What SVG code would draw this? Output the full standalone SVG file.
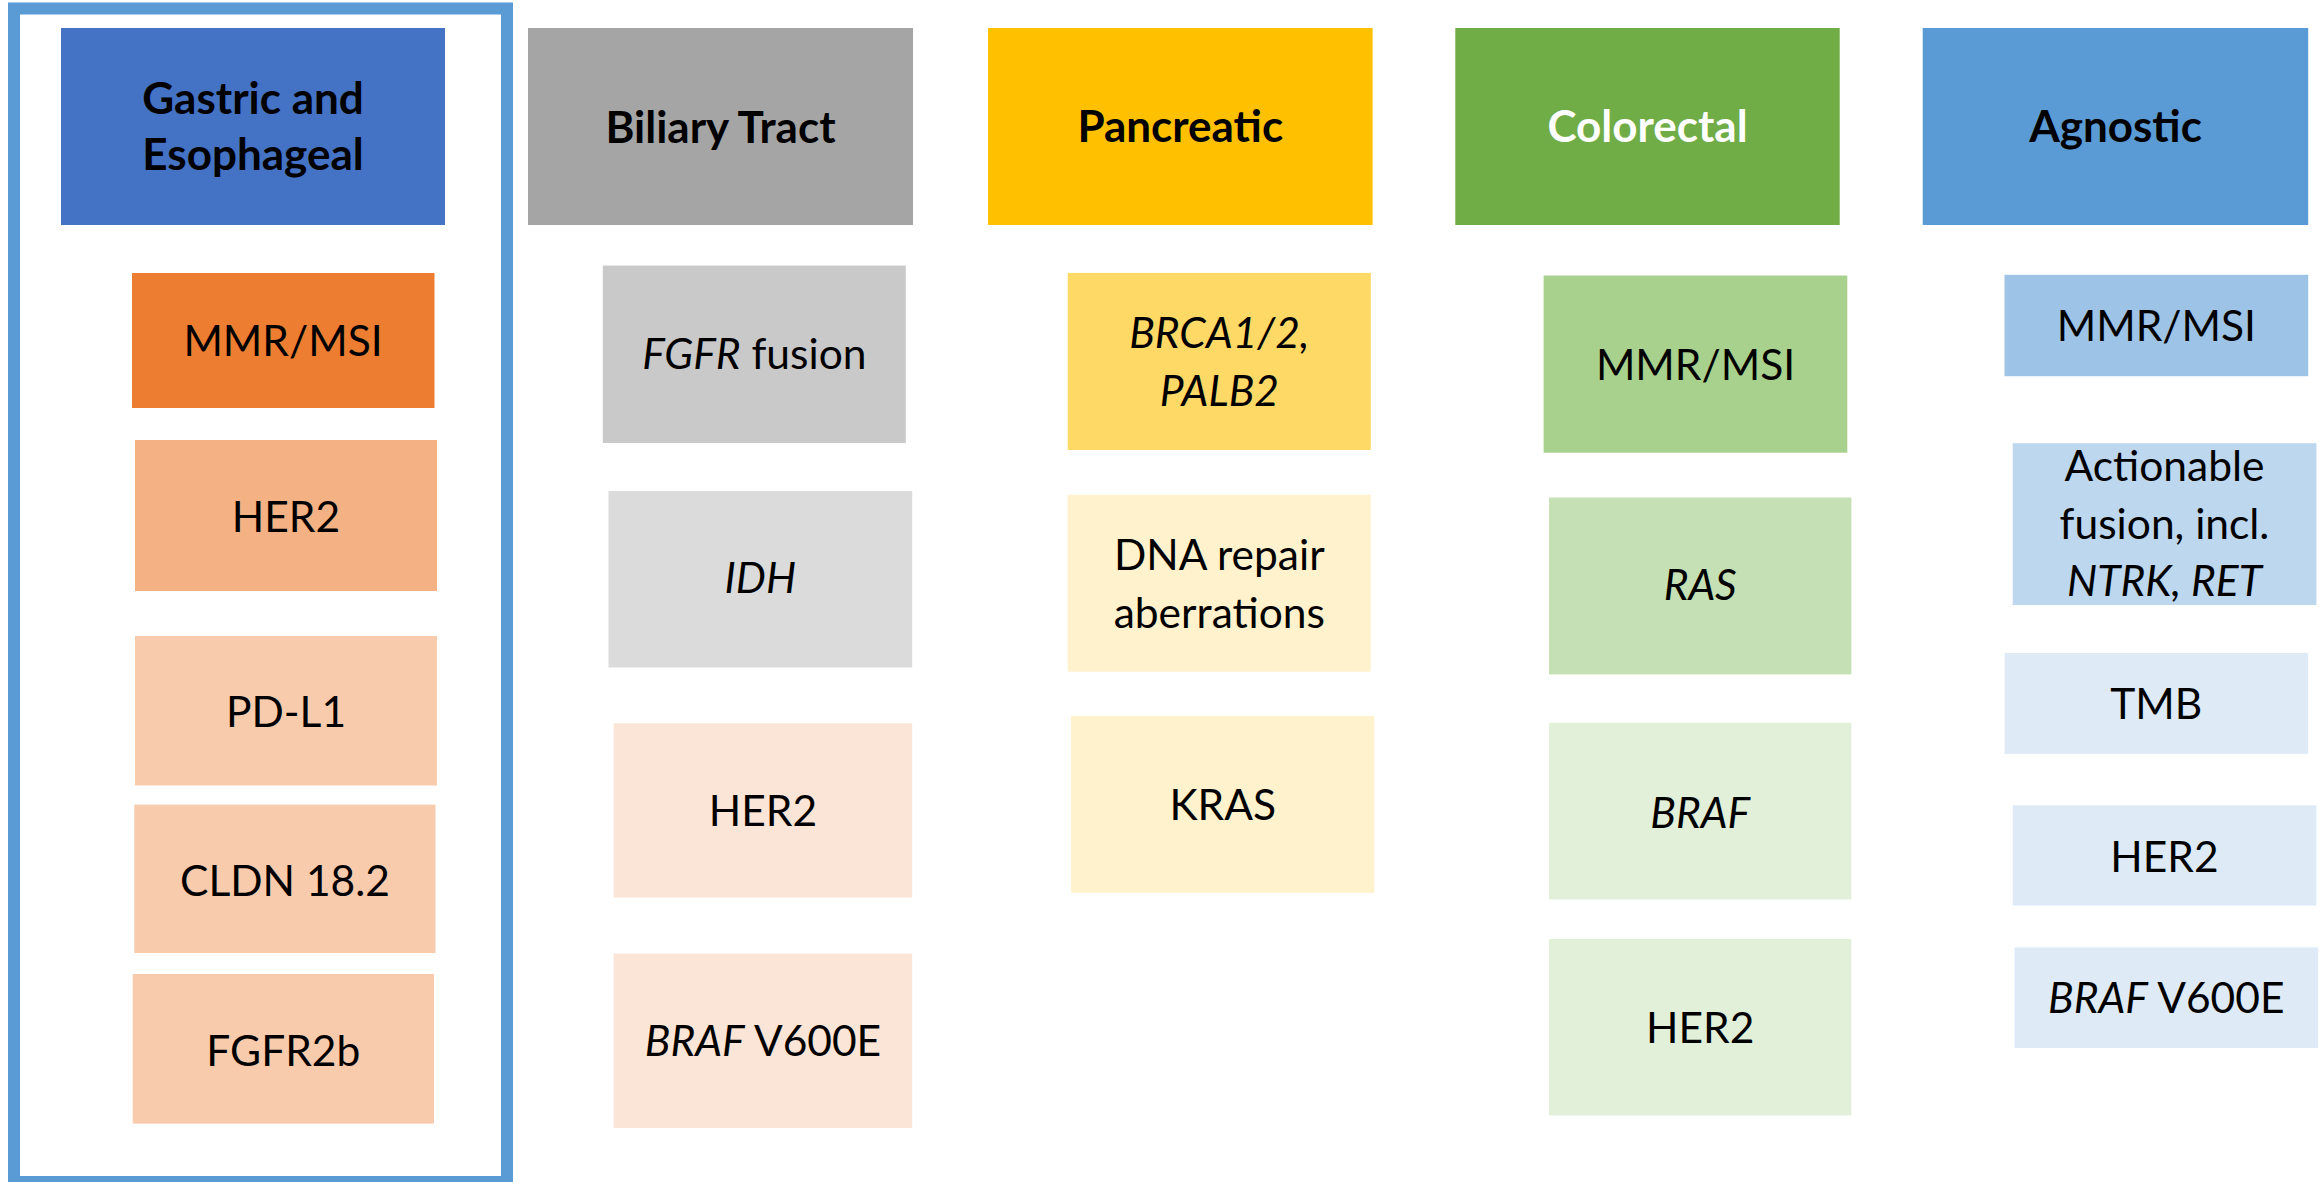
<svg xmlns="http://www.w3.org/2000/svg" width="2323" height="1182" viewBox="0 0 2323 1182">
<style>
text{font-family:Lato,"Open Sans","Liberation Sans",sans-serif;font-size:42.5px;fill:#000;text-anchor:middle}
.h{font-weight:bold;font-size:44px}
.w{fill:#fff}
.i{font-style:italic}
</style>
<rect width="2323" height="1182" fill="#fff"/>
<rect id="frame" x="14" y="8.5" width="493" height="1173.5" fill="none" stroke="#5B9BD5" stroke-width="12"/>
<g id="connectors"/>
<g id="gastric-header"><rect x="61" y="28" width="384" height="197" fill="#4472C4"/><text class="h" x="253" y="114">Gastric and</text><text class="h" x="253" y="170">Esophageal</text></g>
<g id="g-mmr"><rect x="132" y="273" width="302.5" height="135" fill="#ED7D31"/><text x="283" y="356">MMR/MSI</text></g>
<g id="g-her2"><rect x="135" y="440" width="302" height="151" fill="#F4B183"/><text x="286" y="532">HER2</text></g>
<g id="g-pdl1"><rect x="135" y="636" width="302" height="149.5" fill="#F8CBAD"/><text x="286" y="727">PD-L1</text></g>
<g id="g-cldn"><rect x="134.3" y="804.6" width="301.2" height="148.4" fill="#F8CBAD"/><text x="285" y="896">CLDN 18.2</text></g>
<g id="g-fgfr2b"><rect x="132.7" y="974" width="301.3" height="149.6" fill="#F8CBAD"/><text x="283.3" y="1066">FGFR2b</text></g>

<g id="biliary-header"><rect x="528" y="28" width="385" height="197" fill="#A5A5A5"/><text class="h" x="720.5" y="142.7">Biliary Tract</text></g>
<g id="b-fgfr"><rect x="602.8" y="265.6" width="303" height="177.4" fill="#C9C9C9"/><text x="754.3" y="369.3"><tspan class="i">FGFR</tspan> fusion</text></g>
<g id="b-idh"><rect x="608.5" y="491" width="303.7" height="176.5" fill="#DBDBDB"/><text class="i" x="760.3" y="593.4">IDH</text></g>
<g id="b-her2"><rect x="613.7" y="723.2" width="298.5" height="174.3" fill="#FBE5D6"/><text x="763" y="825.7">HER2</text></g>
<g id="b-braf"><rect x="613.7" y="953.5" width="298.5" height="174.5" fill="#FBE5D6"/><text x="763" y="1056"><tspan class="i">BRAF</tspan> V600E</text></g>

<g id="pancreatic-header"><rect x="988" y="28" width="384.6" height="197" fill="#FFC000"/><text class="h" x="1180.3" y="142.4">Pancreatic</text></g>
<g id="p-brca"><rect x="1067.7" y="272.9" width="303.1" height="177.1" fill="#FFD966"/><text class="i" x="1219.3" y="348.3">BRCA1/2,</text><text class="i" x="1219.3" y="405.7">PALB2</text></g>
<g id="p-dna"><rect x="1067.7" y="494.8" width="303.1" height="176.9" fill="#FFF2CC"/><text x="1219.3" y="570">DNA repair</text><text x="1219.3" y="628">aberrations</text></g>
<g id="p-kras"><rect x="1071" y="715.9" width="303.3" height="177" fill="#FFF2CC"/><text x="1222.7" y="820">KRAS</text></g>

<g id="colorectal-header"><rect x="1455.3" y="28" width="384.4" height="197" fill="#70AD47"/><text class="h w" x="1647.5" y="141.6">Colorectal</text></g>
<g id="c-mmr"><rect x="1543.6" y="275.5" width="303.7" height="177.2" fill="#A9D18E"/><text x="1695.5" y="379.6">MMR/MSI</text></g>
<g id="c-ras"><rect x="1549" y="497.5" width="302.4" height="176.9" fill="#C5E0B4"/><text class="i" x="1700.2" y="600">RAS</text></g>
<g id="c-braf"><rect x="1549" y="722.8" width="302.4" height="176.6" fill="#E2F0D9"/><text class="i" x="1700.2" y="827.6">BRAF</text></g>
<g id="c-her2"><rect x="1549" y="939" width="302.4" height="176.5" fill="#E2F0D9"/><text x="1700.2" y="1042.6">HER2</text></g>

<g id="agnostic-header"><rect x="1922.7" y="28" width="385.5" height="197" fill="#5B9BD5"/><text class="h" x="2115.5" y="141.6">Agnostic</text></g>
<g id="a-mmr"><rect x="2004.5" y="274.8" width="303.7" height="101.4" fill="#9DC3E6"/><text x="2156.3" y="340.6">MMR/MSI</text></g>
<g id="a-fusion"><rect x="2012.7" y="443.2" width="303.7" height="161.8" fill="#BDD7EE"/><text x="2164.5" y="481.4">Actionable</text><text x="2164.5" y="538.8">fusion, incl.</text><text class="i" x="2164.5" y="596.2">NTRK, RET</text></g>
<g id="a-tmb"><rect x="2004.5" y="653" width="303.7" height="100.9" fill="#DEEBF7"/><text x="2156.3" y="719">TMB</text></g>
<g id="a-her2"><rect x="2012.7" y="805.3" width="303.7" height="100.2" fill="#DEEBF7"/><text x="2164.5" y="871.7">HER2</text></g>
<g id="a-braf"><rect x="2014.5" y="947.4" width="303.7" height="100.6" fill="#DEEBF7"/><text x="2166.3" y="1013"><tspan class="i">BRAF</tspan> V600E</text></g>
</svg>
